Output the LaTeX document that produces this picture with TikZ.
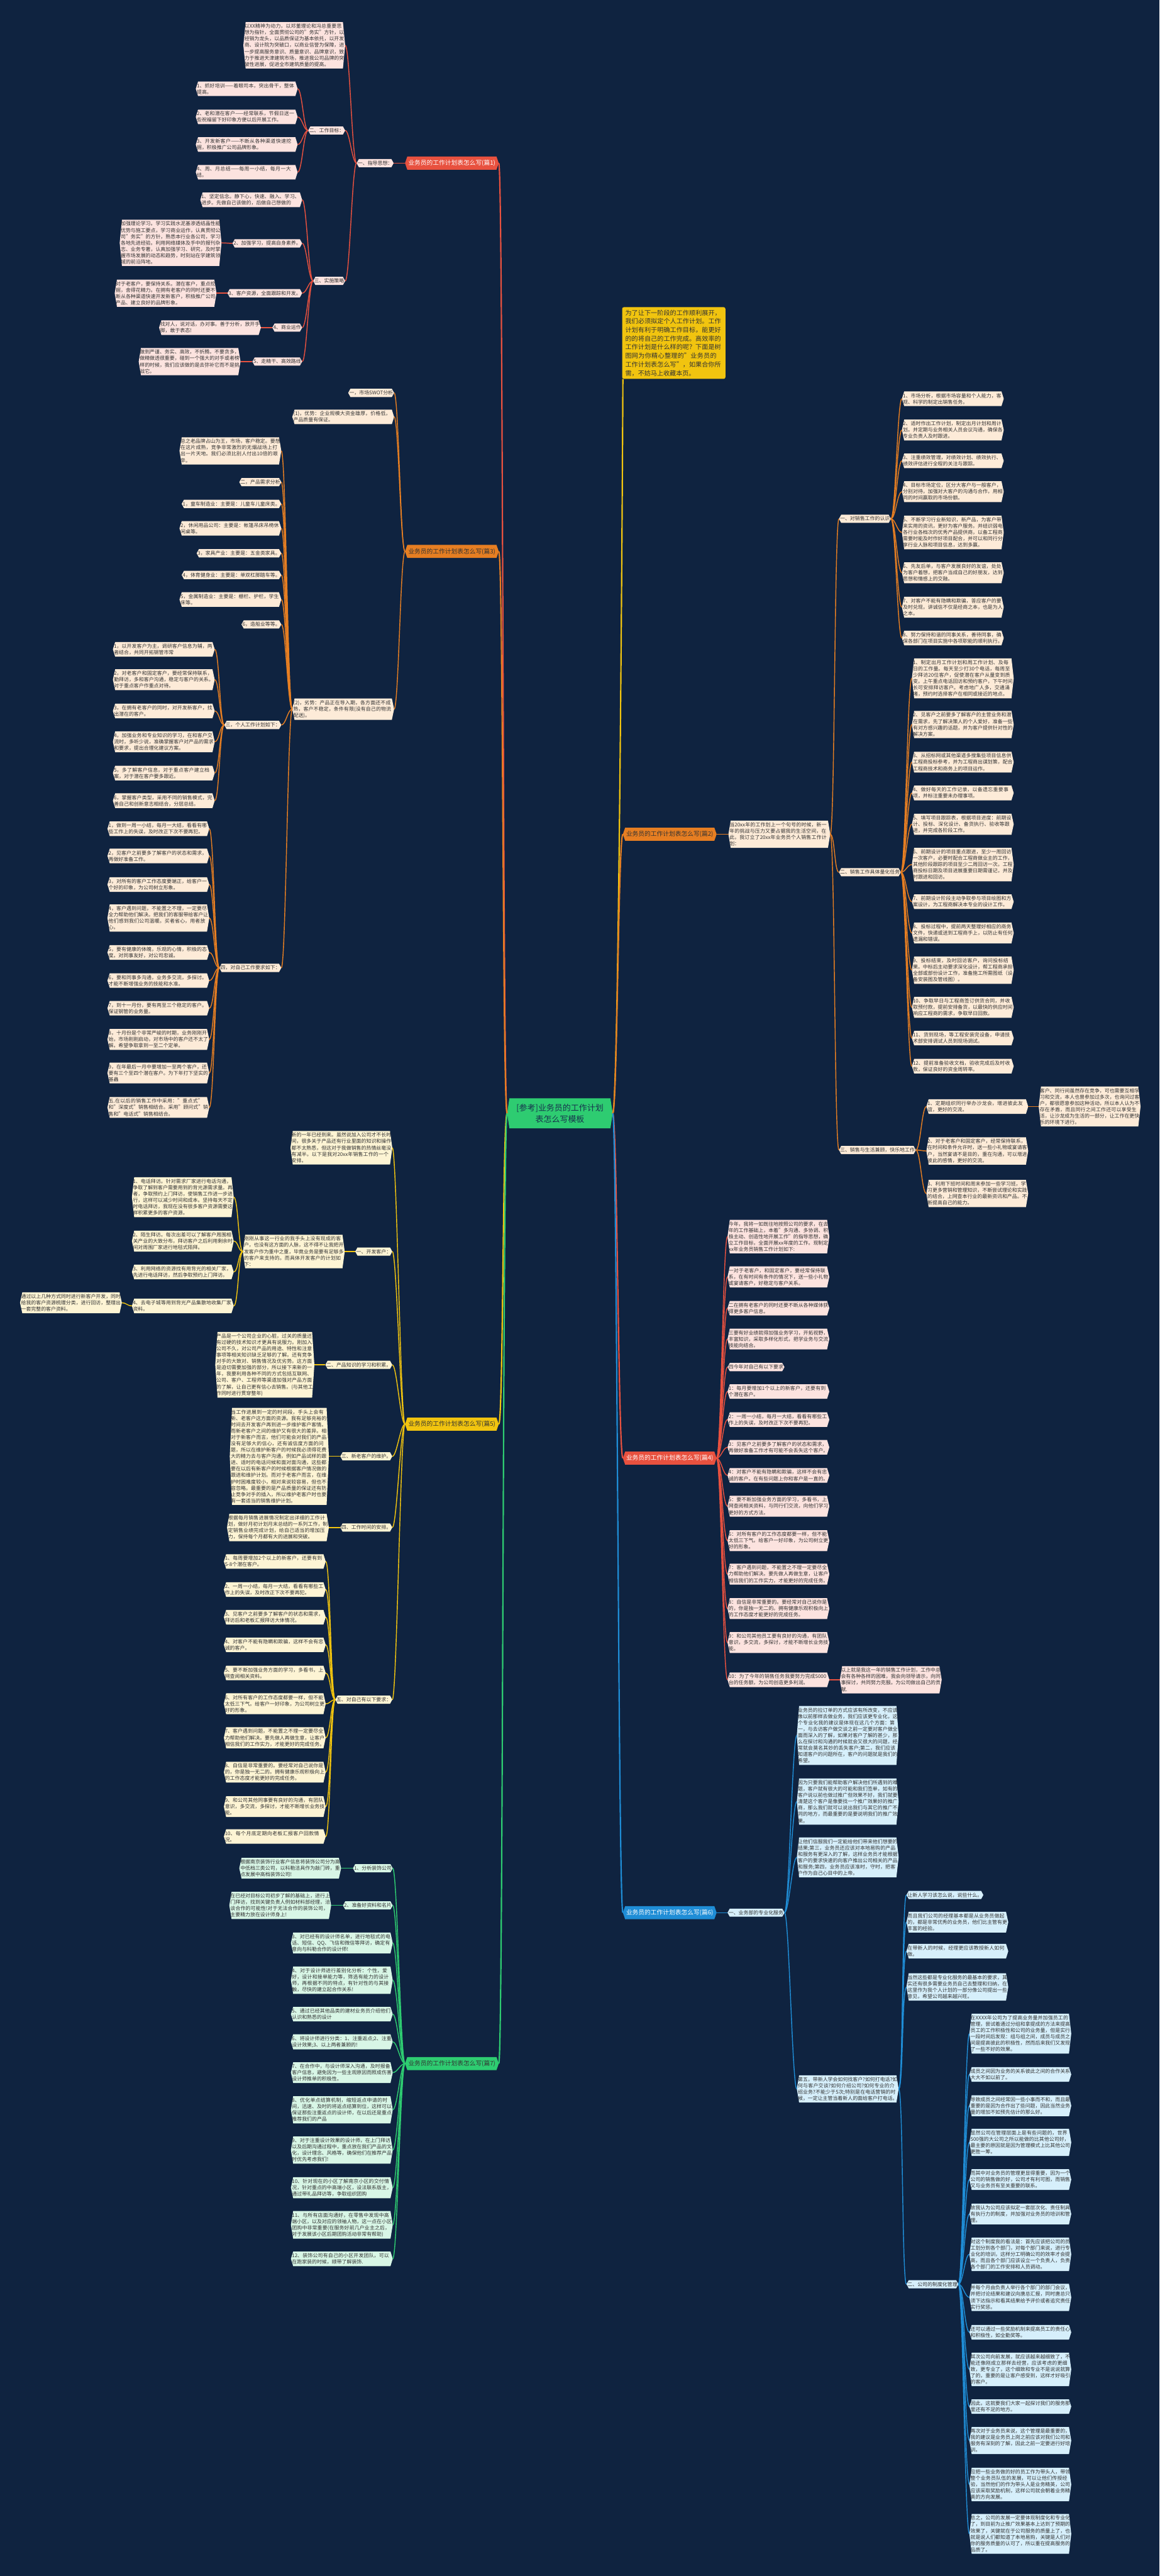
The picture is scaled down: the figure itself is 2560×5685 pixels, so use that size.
\documentclass[tikz,border=0pt]{standalone}
\usepackage{fontspec}
\setmainfont{Noto Sans CJK SC}
\XeTeXlinebreaklocale "zh"
\XeTeXlinebreakskip = 0pt plus 0.5pt
\definecolor{bg}{HTML}{0F2340}
\definecolor{txt}{HTML}{333333}
\definecolor{ctxt}{HTML}{17324D}
\definecolor{cR}{HTML}{E8513F}
\definecolor{cO}{HTML}{E67E22}
\definecolor{cY}{HTML}{F1C40F}
\definecolor{cG}{HTML}{2ECC71}
\definecolor{cB}{HTML}{1F8DD6}
\definecolor{fR}{HTML}{FCE3DF}
\definecolor{fO}{HTML}{FDEBD8}
\definecolor{fY}{HTML}{FDF4D4}
\definecolor{fG}{HTML}{D8F6E6}
\definecolor{fB}{HTML}{D6EFFB}
\makeatletter
\pgfdeclareshape{hexbox}{%
  \inheritsavedanchors[from=rectangle]%
  \inheritanchorborder[from=rectangle]%
  \inheritanchor[from=rectangle]{center}%
  \inheritanchor[from=rectangle]{north}%
  \inheritanchor[from=rectangle]{south}%
  \inheritanchor[from=rectangle]{east}%
  \inheritanchor[from=rectangle]{west}%
  \inheritanchor[from=rectangle]{north east}%
  \inheritanchor[from=rectangle]{north west}%
  \inheritanchor[from=rectangle]{south east}%
  \inheritanchor[from=rectangle]{south west}%
  \inheritanchor[from=rectangle]{base}%
  \inheritanchor[from=rectangle]{mid}%
  \backgroundpath{%
    \southwest \pgf@xa=\pgf@x \pgf@ya=\pgf@y
    \northeast \pgf@xb=\pgf@x \pgf@yb=\pgf@y
    \pgf@yc=.5\pgf@ya \advance\pgf@yc by .5\pgf@yb
    \pgf@xc=\pgf@xa \advance\pgf@xc by 2.5pt
    \pgfpathmoveto{\pgfqpoint{\pgf@xc}{\pgf@ya}}%
    \pgfpathlineto{\pgfqpoint{\pgf@xa}{\pgf@yc}}%
    \pgfpathlineto{\pgfqpoint{\pgf@xc}{\pgf@yb}}%
    \pgf@xc=\pgf@xb \advance\pgf@xc by -2.5pt
    \pgfpathlineto{\pgfqpoint{\pgf@xc}{\pgf@yb}}%
    \pgfpathlineto{\pgfqpoint{\pgf@xb}{\pgf@yc}}%
    \pgfpathlineto{\pgfqpoint{\pgf@xc}{\pgf@ya}}%
    \pgfpathclose
  }%
}
\makeatother
\tikzset{
  bx/.style={shape=hexbox, fill=#1, text=txt, font=\fontsize{5.5pt}{7pt}\selectfont, inner xsep=1pt, inner ysep=1.75pt},
  lft/.style={bx=#1, anchor=east},
  rgt/.style={bx=#1, anchor=west},
  wide/.style={text width=110pt, align=left},
  nw/.style={},
  brn/.style={shape=hexbox, fill=#1, font=\fontsize{6.75pt}{8pt}\selectfont, inner xsep=3.5pt, inner ysep=3.5pt},
  lnk/.style={draw=#1, line width=1pt},
  mln/.style={draw=#1, line width=1.5pt},
}
\newcommand\lkL[3]{\draw[lnk=#1] (#2.west) .. controls +(-10,0) and +(10,0) .. (#3.east);}
\newcommand\lkR[3]{\draw[lnk=#1] (#2.east) .. controls +(10,0) and +(-10,0) .. (#3.west);}
\begin{document}
\begin{tikzpicture}[x=0.5pt,y=-0.5pt]
\fill[bg] (0,0) rectangle (2560,5685);
\useasboundingbox (0,0) rectangle (2560,5685);

% ---------- center ----------
\node[shape=hexbox, fill=cG, text=ctxt, font=\fontsize{9pt}{12.5pt}\selectfont, align=center, inner xsep=10pt, inner ysep=6pt] (C) at (1236,2457) {[参考]业务员的工作计划\\表怎么写模板};

% ---------- intro ----------
\node[rectangle, rounded corners=2pt, fill=cY, text=txt, font=\fontsize{7pt}{9.5pt}\selectfont, text width=107pt, align=left, inner xsep=3.5pt, inner ysep=3pt, anchor=west] (I) at (1373,757) {为了让下一阶段的工作顺利展开，我们必须拟定个人工作计划。工作计划有利于明确工作目标，能更好的的将自己的工作完成。高效率的工作计划是什么样的呢？下面是树图网为你精心整理的"业务员的工作计划表怎么写"，如果合你所需，不妨马上收藏本页。};
\draw[mln=cY] (C.east) .. controls +(14,0) and +(0,60) .. ([xshift=1pt]I.south west);

% ================= 篇1 =================
\node[brn=cR, text=white, anchor=east] (P1) at (1101,360) {业务员的工作计划表怎么写(篇1)};
\draw[mln=cR] (C.west) .. controls +(-10,0) and +(10,0) .. (P1.east);
\node[lft=fR] (A1) at (869,360) {一、指导思想：};
\lkL{cR}{P1}{A1}
\foreach \yy/\op/\myt [count=\nn] in {
 100/wide/{以XX精神为动力，以邓董理论和冯总重要思想为指针，全面贯彻公司的"务实"方针，以经销为龙头，以品质保证为基本依托，以开发商、设计院为突破口，以商业信誉为保障，进一步提高服务意识、质量意识、品牌意识，致力于推进天津建筑市场，推进我公司品牌的突破性进展，促进全市建筑质量的提高。},
 288/nw/{二、工作目标：},
 620/nw/{三、实施策略}}
 {\node[lft=fR,\op] (A1-\nn) at (762,\yy) {\myt}; \lkL{cR}{A1}{A1-\nn}}
\foreach \yy/\op/\myt [count=\nn] in {
 196/wide/{1、抓好培训——着眼司本，突出骨干，整体提高。},
 258/wide/{2、老和潜在客户——经常联系，节假日送一些祝福留下好印象方便以后开展工作。},
 319/wide/{3、开发新客户——不断从各种渠道快速挖掘，积极推广公司品牌形象。},
 380/wide/{4、周、月总结——每周一小结，每月一大结。}}
 {\node[lft=fR,\op] (A12-\nn) at (657,\yy) {\myt}; \lkL{cR}{A1-2}{A12-\nn}}
\foreach \yy/\op/\myt [count=\nn] in {
 441/wide/{1、坚定信念。静下心，快速、融入、学习、进步。先做自己该做的，后做自己想做的},
 537/nw/{2、加强学习，提高自身素养。},
 647/nw/{3、客户资源，全面跟踪和开发。},
 723/nw/{4、商业运作},
 798/nw/{5、走精干、高效路线}}
 {\node[lft=fR,\op] (A13-\nn) at (667,\yy) {\myt}; \lkL{cR}{A1-3}{A13-\nn}}
\node[lft=fR,wide] (G2) at (489,536) {加强理论学习。学习实践水泥基渗透结晶性能优势与施工要点，学习商业运作，认真贯彻公司"务实"的方针，熟悉本行业各公司，学习各地先进经验。利用网络媒体及手中的报刊杂志、业务专著，认真加强学习、研究，及时掌握市场发展的动态和趋势，时刻站在学建筑领域的前沿阵地。};
\lkL{cR}{A13-2}{G2}
\node[lft=fR,wide] (G3) at (478,647) {对于老客户，要保持关系。潜在客户，重点挖掘，舍得花精力。在拥有老客户的同时还要不断从各种渠道快速开发新客户，积极推广公司产品、建立良好的品牌形象。};
\lkL{cR}{A13-3}{G3}
\node[lft=fR,wide] (G4) at (576,723) {找对人，说对话，办对事。善于分析，放开手脚，敢于表态!};
\lkL{cR}{A13-4}{G4}
\node[lft=fR,wide] (G5) at (531,798) {做到严谨、务实、高效，不折腾。不要贪多，做精做透很重要，碰到一个强大的对手或者榜样的时候，我们应该做的是去弥补它而不是挑战它。};
\lkL{cR}{A13-5}{G5}

% ================= 篇3 =================
\node[brn=cO, text=txt, anchor=east] (P3) at (1101,1217) {业务员的工作计划表怎么写(篇3)};
\draw[mln=cO] (C.west) .. controls +(-10,0) and +(10,0) .. (P3.east);
\foreach \yy/\op/\myt [count=\nn] in {
 867/nw/{一，市场SWOT分析},
 920/wide/{(1)，优势：企业规模大资金雄厚，价格低，产品质量有保证。},
 1565/wide/{(2)，劣势：产品正在导入期，各方面还不成熟，客户不稳定，条件有限(没有自己的物流配送)。}}
 {\node[lft=fO,\op] (B-\nn) at (870,\yy) {\myt}; \lkL{cO}{P3}{B-\nn}}
\foreach \yy/\op/\myt [count=\nn] in {
 995/wide/{总之老品牌占山为王，市场，客户稳定。要想在这片成熟，竞争非常激烈的无烟战场上打出一片天地。我们必须比别人付出10倍的艰辛。},
 1064/nw/{二，产品需求分析},
 1112/nw/{1，童车制造业：主要是：儿童车儿童床类。},
 1166/wide/{2，休闲用品公司：主要是：帐篷吊床吊椅休闲桌等。},
 1221/nw/{3，家具产业：主要是：五金类家具。},
 1269/nw/{4，体育健身业：主要是：单双杠脚踏车等。},
 1323/wide/{5，金属制造业：主要是：栅栏、护栏，学生床等。},
 1378/nw/{6，造船业等等。},
 1600/nw/{三，个人工作计划如下：},
 2136/nw/{四，对自己工作要求如下：}}
 {\node[lft=fO,\op] (B3-\nn) at (621,\yy) {\myt}; \lkL{cO}{B-3}{B3-\nn}}
\foreach \yy/\op/\myt [count=\nn] in {
 1433/wide/{1，以开发客户为主，调研客户信息为辅，两者结合，共同开拓钢管市常},
 1500/wide/{2，对老客户和固定客户，要经常保持联系，勤拜访，多和客户沟通，稳定与客户的关系。对于重点客户作重点对待。},
 1569/wide/{3，在拥有老客户的同时，对开发新客户，找出潜在的客户。},
 1637/wide/{4，加强业务和专业知识的学习，在和客户交流时，多听少说，准确掌握客户对产品的需求和要求，提出合理化建议方案。},
 1706/wide/{5，多了解客户信息，对于重点客户建立档案，对于潜在客户要多跟近。},
 1767/wide/{6，掌握客户类型，采用不同的销售模式，完善自己和创新意志相结合，分层总结。}}
 {\node[lft=fO,\op] (B39-\nn) at (474,\yy) {\myt}; \lkL{cO}{B3-9}{B39-\nn}}
\foreach \yy/\op/\myt [count=\nn] in {
 1829/wide/{1，做到一周一小结，每月一大结，看看有哪些工作上的失误，及时改正下次不要再犯。},
 1889/wide/{2，见客户之前要多了解客户的状态和需求，再做好准备工作。},
 1952/wide/{3，对所有的客户工作态度要端正，给客户一个好的印象，为公司树立形象。},
 2026/wide/{4，客户遇到问题，不能置之不理，一定要尽全力帮助他们解决。把我们的客服带给客户让他们感到我们公司温暖。买者省心，用者放心。},
 2102/wide/{5，要有健康的体魄，乐观的心情，积极的态度。对同事友好，对公司忠诚。},
 2164/wide/{6，要和同事多沟通，业务多交流，多探讨。才能不断增强业务的技能和水准。},
 2225/wide/{7，到十一月份，要有两至三个稳定的客户。保证钢管的业务量。},
 2294/wide/{8，十月份是个非常严峻的时期，业务刚刚开始，市场刚刚启动，对市场中的客户还不太了解。希望争取拿到一至二个定单。},
 2368/wide/{9，在年最后一月中要增加一至两个客户，还要有三个至四个潜在客户。为下年打下坚实的基蟲},
 2444/wide/{五.在以后的销售工作中采用："重点式"和"深度式"销售相结合。采用"顾问式"销售和"电话式"销售相结合。}}
 {\node[lft=fO,\op] (B310-\nn) at (462,\yy) {\myt}; \lkL{cO}{B3-10}{B310-\nn}}

% ================= 篇5 =================
\node[brn=cY, text=txt, anchor=east] (P5) at (1101,3143) {业务员的工作计划表怎么写(篇5)};
\draw[mln=cY] (C.west) .. controls +(-10,0) and +(10,0) .. (P5.east);
\foreach \yy/\op/\myt [count=\nn] in {
 2533/wide/{新的一年已经到来。虽然说加入公司才不长时间，很多关于产品还有行业里面的知识和操作都不太熟悉，但这对于我做销售的热情丝毫没有减半。以下是我对20xx年销售工作的一个安排。},
 2762/nw/{一、开发客户：},
 3012/nw/{二、产品知识的学习和积累。},
 3214/nw/{三、新老客户的维护。},
 3371/nw/{四、工作时间的安排。},
 3751/nw/{五、对自己有以下要求：}}
 {\node[lft=fY,\op] (E-\nn) at (866,\yy) {\myt}; \lkL{cY}{P5}{E-\nn}}
\node[lft=fY,wide] (E2a) at (761,2762) {刚刚从事这一行业的我手头上没有现成的客户，也没有这方面的人脉，这不得不让我把开发客户作为重中之重，毕竟业务是要有足够多的客户来支持的。而具体开发客户的计划如下：};
\lkL{cY}{E-2}{E2a}
\foreach \yy/\op/\myt [count=\nn] in {
 2642/wide/{1、电话拜访。针对需求厂家进行电话沟通，争取了解到客户需要用到的背光源需求量。再者，争取预约上门拜访，使销售工作进一步进行，这样可以减少时间和成本。坚持每天不定时电话拜访，我现在没有很多客户资源需要这样积累更多的客户资源。},
 2739/wide/{2、陌生拜访。每次出差可以了解客户周围相关产业的大致分布，拜访客户之后利用剩余时间对周围厂家进行地毯式陌拜。},
 2807/wide/{3、利用网络的资源找有用背光的相关厂家，先进行电话拜访，然后争取预约上门拜访。},
 2882/wide/{4、去电子城等用到背光产品集散地收集厂家资料。}}
 {\node[lft=fY,\op] (E2-\nn) at (516,\yy) {\myt}; \lkL{cY}{E2a}{E2-\nn}}
\node[lft=fY,wide] (E24a) at (269,2875) {通过以上几种方式同时进行新客户开发，同时给我的客户资源梳理分类，进行回访，整理出一套完整的客户资料。};
\lkL{cY}{E2-4}{E24a}
\node[lft=fY,text width=107pt,align=left] (E3a) at (694,3012) {产品是一个公司企业的心脏，过关的质量还有过硬的技术知识才更具有说服力。刚加入公司不久，对公司产品的用途、特性和注意事项等相关知识缺乏足够的了解。还有竞争对手的大致对、销售情况及优劣势。这方面是迫切需要加强的部分，所以接下来新的一年，我要利用各种不同的方式包括互联网、公司、客户、工程师等渠道加强对产品方面的了解，让自己更有信心去销售。(与其他工作同时进行贯穿整年)};
\lkL{cY}{E-3}{E3a}
\node[lft=fY,text width=107pt,align=left] (E4a) at (726,3214) {当工作进展到一定的时间段，手头上会有新、老客户这方面的资源。我有足够充裕的时间去开发客户再到进一步维护客户客情。而新老客户之间的维护又有很大的差异。相对于新客户而言，他们可能会对我们的产品没有足够大的信心，还有诚信度方面的问题，所以在维护新客户的时候我必须得花费大的精力去与客户沟通，例如产品试样的跟进、适时的电话问候和面对面沟通，这些都要在以后有新客户的时候根据客户情况做的跟进和维护计划。而对于老客户而言，在维护时困难度较小，相对来说较容易，但也不容忽略。最重要的是产品质量的保证还有防止竞争对手的插入，所以维护老客户时也要有一套适当的销售维护计划。};
\lkL{cY}{E-4}{E4a}
\node[lft=fY,wide] (E5a) at (726,3371) {根据每月销售进展情况制定出详细的工作计划，做好月初计划月末总结的一系列工作，制定销售业绩完成计划，给自己适当的增加压力，保持每个月都有大的进展和突破。};
\lkL{cY}{E-5}{E5a}
\foreach \yy/\op/\myt [count=\nn] in {
 3446/wide/{1、每周要增加2个以上的新客户，还要有到5-8个潜在客户。},
 3508/wide/{2、一周一小结，每月一大结，看看有哪些工作上的失误，及时改正下次不要再犯。},
 3569/wide/{3、见客户之前要多了解客户的状态和需求，拜访后和老板汇报拜访大体情况。},
 3630/wide/{4、对客户不能有隐瞒和欺骗，这样不会有忠诚的客户。},
 3692/wide/{5、要不断加强业务方面的学习，多看书，上网查阅相关资料。},
 3760/wide/{6、对所有客户的工作态度都要一样，但不能太低三下气。给客户一好印象，为公司树立更好的形象。},
 3835/wide/{7、客户遇到问题，不能置之不理一定要尽全力帮助他们解决。要先做人再做生意，让客户相信我们的工作实力，才能更好的完成任务。},
 3911/wide/{8、自信是非常重要的。要经常对自己说你是的，你是独一无二的。拥有健康乐观积极向上的工作态度才能更好的完成任务。},
 3987/wide/{9、和公司其他同事要有良好的沟通，有团队意识，多交流，多探讨，才能不断增长业务技能。},
 4053/wide/{10、每个月底定期向老板汇报客户回款情况。}}
 {\node[lft=fY,\op] (E6-\nn) at (719,\yy) {\myt}; \lkL{cY}{E-6}{E6-\nn}}

% ================= 篇7 =================
\node[brn=cG, text=txt, anchor=east] (P7) at (1101,4554) {业务员的工作计划表怎么写(篇7)};
\draw[mln=cG] (C.west) .. controls +(-10,0) and +(10,0) .. (P7.east);
\foreach \yy/\op/\myt [count=\nn] in {
 4123/nw/{1、分析装饰公司},
 4205/nw/{2、准备好资料和名片},
 4288/wide/{3、对已经有的设计师名单，进行地毯式的电话、短信、QQ、飞信和微信等拜访，确定有意向与科勒合作的设计师!},
 4370/wide/{4、对于设计师进行差别化分析：个性，爱好，设计和接单能力等，筛选有能力的设计师，再根据不同的特点，有针对性的与其接触，尽快的建立起合作关系!},
 4445/wide/{5、通过已经其他品类的建材业务员介绍他们认识和熟悉的设计},
 4506/wide/{6、将设计师进行分类：1、注重返点;2、注重设计效果;3、以上两者兼顾的!},
 4574/wide/{7、在合作中，与设计师深入沟通，及时报备客户信息，避免因为一些主观原因而照成伤害设计师推单的积极性。},
 4656/wide/{8、优化单点结算机制，缩短返点申请的时间，迅速、及时的将返点结算到位，这样可以保证那些注重返点的设计师，在以后还是重点推荐我们的产品},
 4745/wide/{9、对于注重设计效果的设计师，在上门拜访以及后期沟通过程中，重点放在我们产品的文化，设计理念、风格等，确保他们在推荐产品时优先考虑我们!},
 4828/wide/{10、针对现在的小区了解南京小区的交付情况，针对重点的中高端小区，设法联系版主，通过带礼品拜访等，争取组织团购},
 4910/wide/{11、与所有店面沟通好，在零售中发现中高端小区，以及对应的领袖人物，这一点在小区团购中非常重要(在服务好前几户业主之后，对于发展该小区后期团购活动非常有帮助)},
 4985/wide/{12、装饰公司有自己的小区开发团队，可以在跑家装的时候，顺带了解装饰.}}
 {\node[lft=fG,\op] (H-\nn) at (867,\yy) {\myt}; \lkL{cG}{P7}{H-\nn}}
\node[lft=fG,wide] (H1a) at (753,4123) {根据南京装饰行业客户信息将装饰公司分为高中低档三类公司，以科勒洁具作为敲门砖，重点发展中高档装饰公司!};
\lkL{cG}{H-1}{H1a}
\node[lft=fG,wide] (H2a) at (731,4205) {在已经对目标公司初步了解的基础上，进行上门拜访，找到关键负责人例如材料部经理，洽谈合作的可能性!对于无法合作的装饰公司，主要精力放在设计师身上!};
\lkL{cG}{H-2}{H2a}

% ================= 篇2 =================
\node[brn=cO, text=txt, anchor=west] (P2) at (1375,1841) {业务员的工作计划表怎么写(篇2)};
\draw[mln=cO] (C.east) .. controls +(10,0) and +(-10,0) .. (P2.west);
\node[rgt=fO,wide] (Q0) at (1608,1841) {当20xx年的工作划上一个句号的时候，新一年的挑战与压力又要占据我的生活空间，在此，我订立了20xx年业务员个人销售工作计划：};
\lkR{cO}{P2}{Q0}
\foreach \yy/\op/\myt [count=\nn] in {
 1145/nw/{一、对销售工作的认识},
 1925/nw/{二、销售工作具体量化任务},
 2538/nw/{三、销售与生活兼顾，快乐地工作}}
 {\node[rgt=fO,\op] (Q-\nn) at (1852,\yy) {\myt}; \lkR{cO}{Q0}{Q-\nn}}
\foreach \yy/\op/\myt [count=\nn] in {
 880/wide/{1、市场分析，根据市场容量和个人能力，客观、科学的制定出销售任务。},
 949/wide/{2、适时作出工作计划，制定出月计划和周计划。并定期与业务相关人员会议沟通，确保各专业负责人及时跟进。},
 1017/wide/{3、注重绩效管理，对绩效计划、绩效执行、绩效评估进行全程的关注与跟踪。},
 1085/wide/{4、目标市场定位，区分大客户与一般客户，分别对待，加强对大客户的沟通与合作，用相同的时间赢取的市场份额。},
 1175/wide/{5、不断学习行业新知识，新产品，为客户带来实用的资讯，更好为客户服务。并结识弱电各行业各档次的优秀产品提供商，以备工程商需要时能及时作好项目配合，并可以和同行分享行业人脉和项目信息，达到多赢。},
 1264/wide/{6、先友后单，与客户发展良好的友谊，处处为客户着想，把客户当成自己的好朋友，达到思想和情感上的交融。},
 1340/wide/{7、对客户不能有隐瞒和欺骗，答应客户的要及时兑现，讲诚信不仅是经商之本，也是为人之本。},
 1408/wide/{8、努力保持和谐的同事关系，善待同事，确保各部门在项目实施中各项职能的顺利执行。}}
 {\node[rgt=fO,\op] (Q1-\nn) at (1991,\yy) {\myt}; \lkR{cO}{Q-1}{Q1-\nn}}
\foreach \yy/\op/\myt [count=\nn] in {
 1497/wide/{1、制定出月工作计划和周工作计划、及每日的工作量。每天至少打30个电话，每周至少拜访20位客户，促使潜在客户从量变到质变。上午重点电话回访和预约客户，下午时间长可安排拜访客户。考虑地广人多，交通涌堵，预约时选择客户在相同或接近的地点。},
 1599/wide/{2、见客户之前要多了解客户的主营业务和潜在需求，先了解决策人的个人爱好，准备一些有对方感兴趣的话题，并为客户提供针对性的解决方案。},
 1682/wide/{3、从招标网或其他渠道多搜集些项目信息供工程商投标参考，并为工程商出谋划策，配合工程商技术和商务上的项目运作。},
 1750/wide/{4、做好每天的工作记录，以备遗忘重要事项，并标注重要未办理事项。},
 1819/wide/{5、填写项目跟踪表，根据项目进度：前期设计、投标、深化设计、备货执行、验收等跟进，并完成各阶段工作。},
 1908/wide/{6、前期设计的项目重点跟进，至少一周回访一次客户，必要时配合工程商做业主的工作，其他阶段跟踪的项目至少二周回访一次。工程商投标日期及项目进展重要日期需谨记，并及时跟进和回访。},
 1990/wide/{7、前期设计阶段主动争取参与项目绘图和方案设计，为工程商解决本专业的设计工作。},
 2059/wide/{8、投标过程中，提前两天整理好相应的商务文件，快递或送到工程商手上，以防止有任何遗漏和错误。},
 2141/wide/{9、投标结束，及时回访客户，询问投标结果。中标后主动要求深化设计，帮工程商承担全部或部份设计工作，准备施工所需图纸（设备安装图及管线图）。},
 2223/wide/{10、争取早日与工程商签订供货合同，并收取预付款，提前安排备货，以最快的供应时间响应工程商的需求，争取早日回款。},
 2291/wide/{11、货到现场，等工程安装完设备，申请技术部安排调试人员到现场调试。},
 2353/wide/{12、提前准备验收文档，验收完成后及时收款，保证良好的资金周转率。}}
 {\node[rgt=fO,\op] (Q2-\nn) at (2013,\yy) {\myt}; \lkR{cO}{Q-2}{Q2-\nn}}
\foreach \yy/\op/\myt [count=\nn] in {
 2442/wide/{1、定期组织同行举办沙龙会，增进彼此友谊，更好的交流。},
 2540/wide/{2、对于老客户和固定客户，经常保持联系，在时间和条件允许时，送一些小礼物或宴请客户，当然宴请不是目的，重在沟通，可以增进彼此的感情，更好的交流。},
 2634/wide/{3、利用下班时间和周末参加一些学习班，学习更多营销和管理知识，不断尝试理论和实践的结合，上网查本行业的最新资讯和产品。不断提高自己的能力。}}
 {\node[rgt=fO,\op] (Q3-\nn) at (2045,\yy) {\myt}; \lkR{cO}{Q-3}{Q3-\nn}}
\node[rgt=fO,wide] (Q31a) at (2293,2442) {客户、同行间虽然存在竞争，可也需要互相学习和交流，本人也曾参加过多次，也询问过客户，都很愿意参加这种活动，所以本人认为不存在矛盾，而且同行之间工作还可以享受生活，让沙龙成为生活的一部分，让工作在更快乐的环境下进行。};
\lkR{cO}{Q3-1}{Q31a}

% ================= 篇4 =================
\node[brn=cR, text=white, anchor=west] (P4) at (1375,3218) {业务员的工作计划表怎么写(篇4)};
\draw[mln=cR] (C.east) .. controls +(10,0) and +(-10,0) .. (P4.west);
\foreach \yy/\op/\myt [count=\nn] in {
 2729/wide/{今年，我将一如既往地按照公司的要求，在去年的工作基础上，本着"多沟通、多协调、积极主动、创造性地开展工作"的指导思想，确立工作目标，全面开展xx年度的工作。现制定xx年业务员销售工作计划如下:},
 2818/wide/{一对于老客户，和固定客户，要经常保持联系，在有时间有条件的情况下，送一些小礼物或宴请客户，好稳定与客户关系。},
 2887/wide/{二在拥有老客户的同时还要不断从各种媒体获得更多客户信息。},
 2955/wide/{三要有好业绩就得加强业务学习，开拓视野，丰富知识，采取多样化形式，把学业务与交流技能向结合。},
 3017/nw/{四今年对自己有以下要求},
 3071/wide/{1：每月要增加1个以上的新客户，还要有到个潜在客户。},
 3133/wide/{2：一周一小结，每月一大结，看看有哪些工作上的失误，及时改正下次不要再犯。},
 3194/wide/{3：见客户之前要多了解客户的状态和需求，再做好准备工作才有可能不会丢失这个客户。},
 3256/wide/{4：对客户不能有隐瞒和欺骗，这样不会有忠诚的客户。在有些问题上你和客户是一直的。},
 3324/wide/{5：要不断加强业务方面的学习，多看书，上网查阅相关资料，与同行们交流，向他们学习更好的方式方法。},
 3400/wide/{6：对所有客户的工作态度都要一样，但不能太低三下气。给客户一好印象，为公司树立更好的形象。},
 3474/wide/{7：客户遇到问题，不能置之不理一定要尽全力帮助他们解决。要先做人再做生意，让客户相信我们的工作实力，才能更好的完成任务。},
 3550/wide/{8：自信是非常重要的。要经常对自己说你是的，你是独一无二的。拥有健康乐观积极向上的工作态度才能更好的完成任务。},
 3625/wide/{9：和公司其他员工要有良好的沟通，有团队意识，多交流，多探讨，才能不断增长业务技能。},
 3707/wide/{10：为了今年的销售任务我要努力完成5000台的任务额，为公司创造更多利润。}}
 {\node[rgt=fR,\op] (K-\nn) at (1606,\yy) {\myt}; \lkR{cR}{P4}{K-\nn}}
\node[rgt=fR,wide] (K15a) at (1854,3707) {以上就是我这一年的销售工作计划，工作中总会有各种各样的困难，我会向领导请示，向同事探讨，共同努力克服。为公司做出自己的贡献.};
\lkR{cR}{K-15}{K15a}

% ================= 篇6 =================
\node[brn=cB, text=white, anchor=west] (P6) at (1375,4221) {业务员的工作计划表怎么写(篇6)};
\draw[mln=cB] (C.east) .. controls +(10,0) and +(-10,0) .. (P6.west);
\node[rgt=fB] (S1) at (1606,4221) {一、业务部的专业化服务};
\lkR{cB}{P6}{S1}
\foreach \yy/\op/\myt [count=\nn] in {
 3830/wide/{业务员的拉订单的方式应该有所改变，不应该像以前那样去做业务，我们应该更专业化，这个专业化我的建议是体现在这几个方面：第一，与去访客户做交谈之前一定要对客户做全面而深入的了解，如果对客户了解的甚少，那么在探讨和沟通的时候就会又很大的问题，经常就会莫名其妙的丢失客户;第二，我们应该知道客户的问题所在，客户的问题就是我们的希望。},
 3976/wide/{因为只要我们能帮助客户解决他们所遇到的难题，客户就有很大的可能和我们签单，如有的客户说以前也做过推广但效果不好，我们就要清楚这个客户是像要找一个推广效果好的推广商，那么我们就可以说出我们与其它的推广不同的地方，而最重要的是要说明我们的推广效果。},
 4099/wide/{让他们信服我们一定能给他们带来他们想要的结果;第三，业务员还应该对本地易购的产品和服务有更深入的了解，这样业务员才能根据客户的要求快速的向客户推出公司相关的产品和服务;第四，业务员应该准时，守时，把客户作为自己心目中的上帝。},
 4610/wide/{第五，带新人学会如何找客户?如何打电话?如何与客户交谈?如何介绍公司?如何专业的介绍业务?不能少于5次;特别是在电话营销的时候，一定让主管当着新人的面给客户打电话。}}
 {\node[rgt=fB,\op] (S1-\nn) at (1759,\yy) {\myt}; \lkR{cB}{S1}{S1-\nn}}
\foreach \yy/\op/\myt [count=\nn] in {
 4182/nw/{让新人学习该怎么说，说些什么。},
 4242/wide/{而且我们公司的经理基本都是从业务员做起的，都是非常优秀的业务员，他们比主管有更丰富的经验。},
 4306/wide/{在带新人的时候，经理更应该教授新人如何做。},
 4385/wide/{当然这些都是专业化服务的最基本的要求，其实还有很多需要业务员自己去整理和归纳，在这里作为我个人计划的一部分像公司提出一些意见，希望公司越来越兴旺。},
 5041/nw/{二、公司的制度化管理}}
 {\node[rgt=fB,\op] (S14-\nn) at (2001,\yy) {\myt}; \lkR{cB}{S1-4}{S14-\nn}}
\foreach \yy/\op/\myt [count=\nn] in {
 4488/wide/{在XXXX年公司为了提高业务量并加强员工的管理，尝试着通过分组和拿提成的方法来提高员工的工作积极性和公司的业务量，但是实行一段时间后发现：组与组之间，成员与成员之间是提高彼此的积极性，然而后来我们又发现了一些不好的效果。},
 4578/wide/{成员之间因为业务的关系彼此之间的合作关系大大不如以前了。},
 4647/wide/{导致成员之间经常因一些小事而不和，而且最重要的是因为合作出了些问题，因此当然业务量的增加不如预先估计的那么好。},
 4728/wide/{显然公司在管理层面上是有些问题的，世界500强的大公司之所以能做的比其他公司好，最主要的原因就是因为管理模式上比其他公司更胜一筹。},
 4810/wide/{而其中对业务员的管理更显得重要，因为一个公司的销售做的好，公司才有利可图，而销售又与业务员有至关重要的联系。},
 4886/wide/{故我认为公司应该拟定一套层次化、责任制具有执行力的制度，并加强对业务员的培训和管理。},
 4975/wide/{对这个制度我的看法是：首先应该把公司的员工划分到各个部门，对每个部门来说，进行专业化的培训，这样分工明确公司的效率才会提高，而且各个部门应该设立一个负责人，负责各个部门的工作安排和人员调动。},
 5070/wide/{并每个月由负责人举行各个部门的部门会议，并把讨论结果和建议向唐总汇报，同时唐总只须下达指示和看其结果给予评价或者追究责任实行奖惩。},
 5147/wide/{还可以通过一些奖励机制来提高员工的责任心和积极性，如全勤奖等。},
 5229/wide/{其次公司向前发展，就应该越来越细致了，不能还像刚成立那样去经营，应该考虑的更细致，更专业了，这个细致和专业不是说说就算了的，重要的是让客户感受到，这样才好吸引的客户。},
 5311/wide/{因此，这就要我们大家一起探讨我们的服务那里还有不足的地方。},
 5386/wide/{再次对于业务员来说，这个管理是最重要的，我的建议是业务员上岗之前应该对我们公司和服务有深刻的了解，因此之前一定要进行好培训。},
 5483/wide/{应把一些业务做的好的员工作为带头人，带领整个业务员队伍的发展，可以让他们传授经验，当然他们的作为带头人是业务精英，公司应该采取奖励机制，这样公司就会朝着业务精英的方向发展。},
 5592/wide/{总之，公司的发展一定要体现制度化和专业化了，到目前为止推广效果基本上达到了预期的效果了，关键就在于公司服务的质量上了，也就是说人们都知道了本地易购，关键是人们对你的服务质量的认可了，所以重在提高服务的品质了。}}
 {\node[rgt=fB,\op] (S2-\nn) at (2140,\yy) {\myt}; \lkR{cB}{S14-5}{S2-\nn}}
\end{tikzpicture}
\end{document}
